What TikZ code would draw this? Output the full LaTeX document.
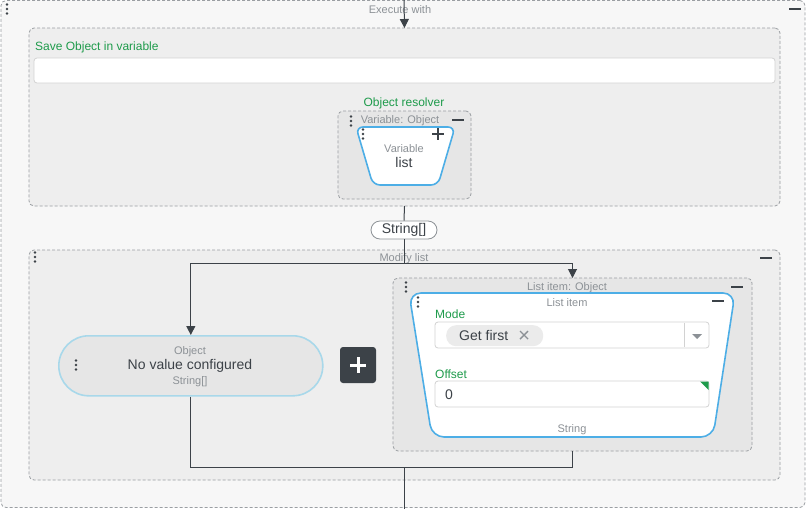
\documentclass[tikz,border=0pt]{standalone}
\usepackage{fontspec}
\setmainfont{Liberation Sans}
\usetikzlibrary{arrows.meta}
\definecolor{outerbg}{HTML}{F7F7F7}
\definecolor{boxbg}{HTML}{EEEEEE}
\definecolor{innerbg}{HTML}{E6E6E6}
\definecolor{dashcol}{HTML}{9A9EA2}
\definecolor{darkc}{HTML}{3C4248}
\definecolor{greenc}{HTML}{1E9B4B}
\definecolor{graytext}{HTML}{8C9196}
\definecolor{bluec}{HTML}{4DAEE6}
\definecolor{pillblue}{HTML}{A8D8EA}
\definecolor{fieldbd}{HTML}{D2D2D2}
\definecolor{chipbg}{HTML}{EBEBEB}
\newcommand{\fs}[1]{\fontsize{#1}{#1}\selectfont}
\tikzset{
  dbox/.style={draw=dashcol, dash pattern=on 3pt off 2pt, line width=0.8pt, rounded corners=5pt, inner sep=0pt, outer sep=0pt, anchor=north west},
  field/.style={draw=fieldbd, line width=0.8pt, fill=white, rounded corners=3pt, inner sep=0pt, outer sep=0pt, anchor=north west},
  gtext/.style={text=graytext, inner sep=0pt, font=\fs{11}, yshift=-1.2pt},
  greentext/.style={text=greenc, inner sep=0pt, font=\fs{12}},
  darktext/.style={text=darkc, inner sep=0pt, font=\fs{14}},
  conn/.style={draw=darkc, line width=1pt},
  arrowc/.style={conn, -{Triangle[length=9pt,width=9pt]}},
  kebab/.pic={\fill[darkc] (0,-4.5) circle (1.4pt) (0,0) circle (1.4pt) (0,4.5) circle (1.4pt);},
  minus/.pic={\draw[darkc, line width=1.6pt] (-6,0) -- (6,0);},
  trap/.style={draw=bluec, line width=1.6pt, fill=white}
}
\begin{document}
\begin{tikzpicture}[x=1pt,y=-1pt]
\useasboundingbox (0,0) rectangle (809,509);
% outer frame
\node[dbox, fill=outerbg, minimum width=804pt, minimum height=507pt] (outer) at (1,0.5) {};
\pic at (7,9) {kebab};
\pic at (795,9) {minus};
\node[gtext] (execLbl) at (400,8) {Execute with};
% save box
\node[dbox, fill=boxbg, minimum width=751pt, minimum height=178pt] (saveBox) at (29,28) {};
\node[greentext, anchor=west] (saveLbl) at (35,47) {Save Object in variable};
\node[field, minimum width=741pt, minimum height=25pt] (saveField) at (34,58) {};
\node[greentext] (resLbl) at (404,103) {Object resolver};
\node[dbox, fill=innerbg, minimum width=133pt, minimum height=88pt] (varBox) at (338,111) {};
\node[gtext] (varBoxLbl) at (400,119) {Variable: Object};
\pic at (351,121) {kebab};
\pic at (458,120) {minus};
\draw[trap, rounded corners=7pt] (356,127) -- (455,127) -- (438,185) -- (373,185) -- cycle;
\pic at (363,134) {kebab};
\draw[darkc, line width=1.6pt] (432,134) -- (444,134) (438,128) -- (438,140);
\node[gtext] (varTitle) at (404,147) {Variable};
\node[darktext] (varName) at (404,162) {list};
% string pill
\node[draw=graytext, line width=0.8pt, fill=white, rounded corners=9pt, minimum width=66pt, minimum height=18pt, inner sep=0pt, font=\fs{14}, text=darkc] (strPill) at (404,230) {String[]};
% modify box
\node[dbox, fill=boxbg, minimum width=751pt, minimum height=230pt] (modBox) at (29,250) {};
\node[gtext] (modLbl) at (404,257) {Modify list};
\pic at (35,257) {kebab};
\pic at (766,258) {minus};
% connectors
\coordinate (topIn) at (404,0);
\coordinate (split) at (404,263);
\coordinate (merge) at (404,467);
\coordinate (botOut) at (404,509);
\draw[arrowc] (topIn) -- (saveBox.north);
\draw[conn] (saveBox.south) -- (strPill.north);
\draw[conn] (strPill.south) -- (split);
% object pill
\node[draw=pillblue, line width=1.6pt, fill=innerbg, rounded corners=30pt, minimum width=264pt, minimum height=60pt, inner sep=0pt, anchor=north west] (objPill) at (58,335) {};
\pic at (76,365) {kebab};
\node[gtext] (objT) at (190,350) {Object};
\node[darktext, yshift=-1pt] (objV) at (190,365) {No value configured};
\node[gtext] (objS) at (190,380) {String[]};
% plus button
\node[fill=darkc, rounded corners=3pt, minimum size=36pt, inner sep=0pt] (plusBtn) at (358,365) {};
\draw[white, line width=3pt] (350,365) -- (366,365) (358,357) -- (358,373);
% list item box
\node[dbox, fill=innerbg, minimum width=359pt, minimum height=173pt] (liBox) at (393,278) {};
\node[gtext] (liLbl) at (567,286) {List item: Object};
\pic at (406,287) {kebab};
\pic at (737,287) {minus};
\draw[arrowc] (split) -| (objPill.north);
\draw[arrowc] (split) -| (liBox.north);
\draw[conn] (objPill.south) |- (merge);
\draw[conn] (liBox.south) |- (merge);
\draw[conn] (merge) -- (botOut);
\draw[trap, rounded corners=12pt] (409,293) -- (735,293) -- (713,437) -- (432,437) -- cycle;
\pic at (418,302) {kebab};
\pic at (718,301) {minus};
\node[gtext] (liTitle) at (567,301) {List item};
\node[greentext, anchor=west] (modeLbl) at (435,314) {Mode};
\node[field, minimum width=274pt, minimum height=26pt] (modeField) at (435,322) {};
\draw[fieldbd, line width=0.8pt] (684,323) -- (684,347);
\fill[graytext] (692,334) -- (702,334) -- (697,339) -- cycle;
\node[fill=chipbg, rounded corners=10pt, minimum width=97pt, minimum height=21pt, inner sep=0pt, anchor=north west] (chip) at (446,325) {};
\node[darktext, anchor=west] (chipT) at (459,335) {Get first};
\draw[graytext, line width=1.4pt] (520,331) -- (528,339) (520,339) -- (528,331);
\node[greentext, anchor=west] (offLbl) at (435,374) {Offset};
\node[field, minimum width=274pt, minimum height=26pt] (offField) at (435,381) {};
\fill[greenc] (700,381.5) -- (708.5,381.5) -- (708.5,390) -- cycle;
\node[darktext, anchor=west, yshift=-1pt] (offV) at (445,394) {0};
\node[gtext] (liType) at (572,428) {String};
\end{tikzpicture}
\end{document}
